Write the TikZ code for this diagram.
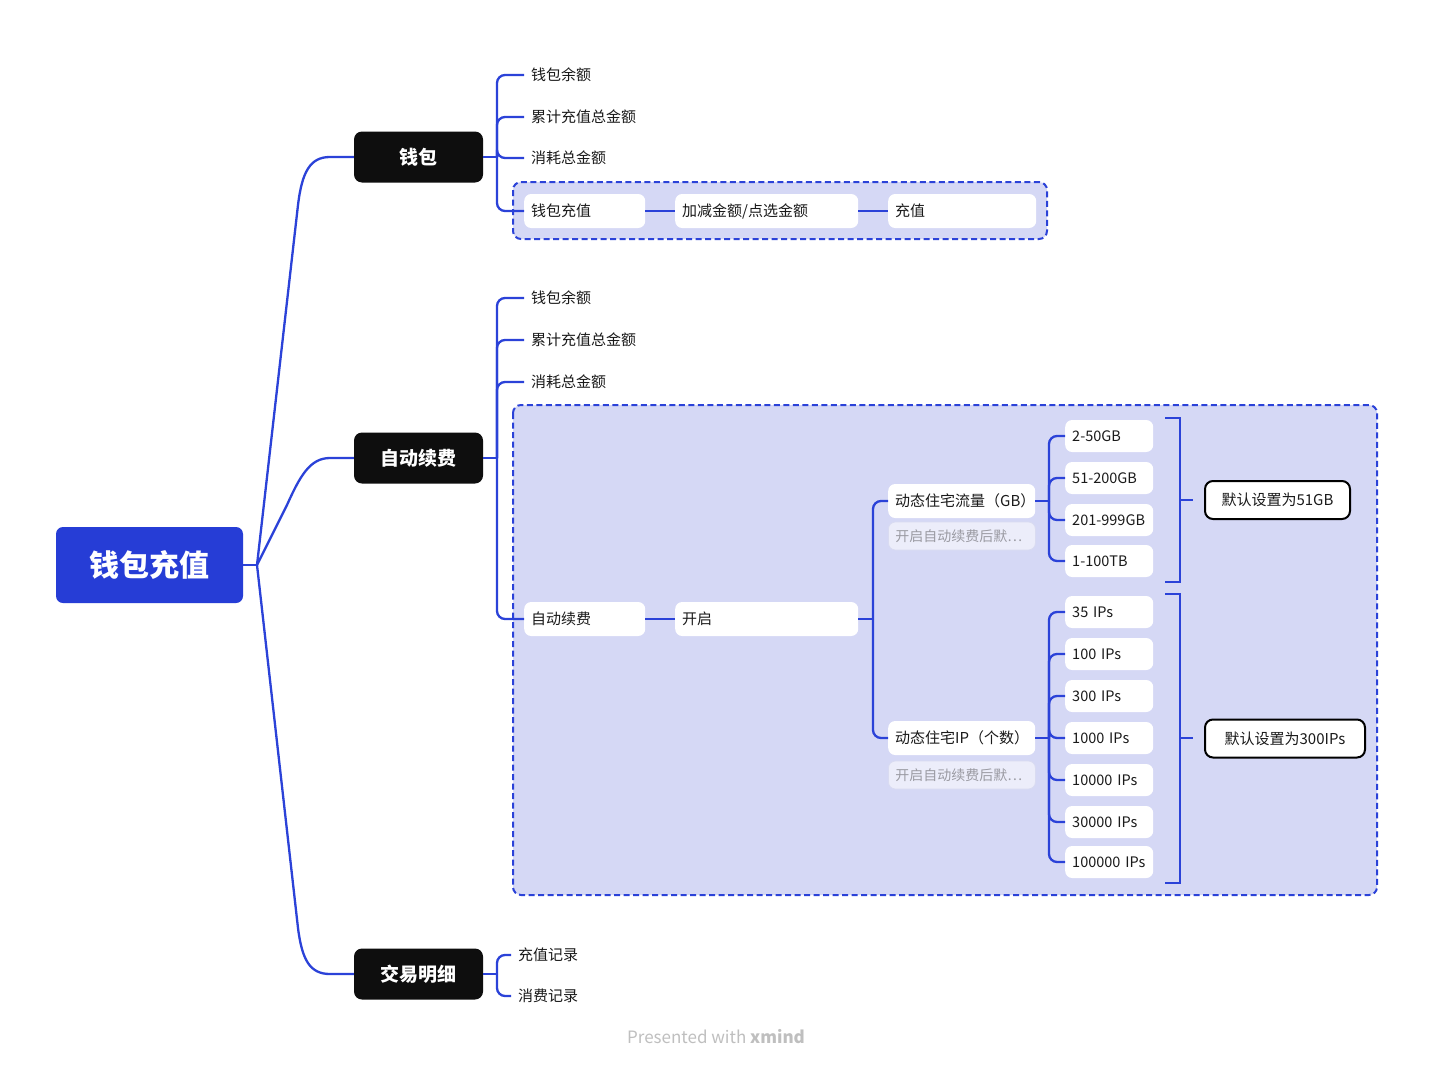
\documentclass[tikz,border=0pt]{standalone}
\usepackage{fontspec}
\setmainfont{Noto Sans CJK SC}
\definecolor{lineblue}{HTML}{2B42D8}
\definecolor{rootblue}{HTML}{263DD6}
\definecolor{zonefill}{HTML}{D5D8F5}
\definecolor{catblack}{HTML}{0E0E0E}
\definecolor{notefill}{HTML}{ECEDFA}
\definecolor{noteline}{HTML}{D9DBF1}
\definecolor{notetext}{HTML}{9A9AA2}
\definecolor{leaftext}{HTML}{1A1A1A}
\newcommand{\fsz}[1]{\fontsize{#1}{#1}\selectfont}
\tikzset{
  conn/.style={draw=lineblue, line width=2.3pt},
  spine/.style={conn, rounded corners=8pt},
  zone/.style={draw=lineblue, fill=zonefill, line width=2pt, dash pattern=on 6pt off 3.5pt, rounded corners=8pt},
  rootbox/.style={fill=rootblue, text=white, rounded corners=7pt, minimum width=187pt, minimum height=76pt, font=\fsz{30}\bfseries},
  catbox/.style={fill=catblack, text=white, rounded corners=8pt, minimum width=129pt, minimum height=51pt, font=\fsz{19}\bfseries},
  leaf/.style={anchor=west, inner xsep=7pt, inner ysep=2pt, text=leaftext, font=\fsz{15}},
  wbox/.style={anchor=west, fill=white, rounded corners=7pt, inner xsep=7pt, inner ysep=0pt, minimum height=34pt, align=left, text=leaftext, font=\fsz{15}},
  sbox/.style={wbox, minimum height=32pt, text width=74pt, font=\fsz{14.5}},
  notebox/.style={anchor=west, fill=notefill, draw=noteline, line width=0.8pt, rounded corners=7pt, inner xsep=7pt, inner ysep=0pt, minimum height=28pt, text width=133pt, align=left, text=notetext, font=\fsz{14}},
  defbox/.style={fill=white, draw=black, line width=2pt, rounded corners=8pt, minimum height=38pt, inner xsep=10pt, text=leaftext, font=\fsz{15}},
  wmark/.style={text=black!25, font=\fsz{17}}
}
\begin{document}
\begin{tikzpicture}[x=1pt,y=-1pt]
\useasboundingbox (0,0) rectangle (1434,1068);
\fill[white] (0,0) rectangle (1434,1068);

% zones
\draw[zone] (513,182) rectangle (1047,239);
\draw[zone] (513,405) rectangle (1377,895);

% root and categories
\node[rootbox] (root) at (149.5,565) {钱包充值};
\node[catbox] (w) at (418.5,157) {钱包};
\node[catbox] (a) at (418.5,458) {自动续费};
\node[catbox] (t) at (418.5,974) {交易明细};

\coordinate (rs) at (257,565);
\draw[conn] (root.east) -- (rs);
\draw[conn] (rs) -- (298,205) .. controls (302,172) and (310,157) .. (330,157) -- (w.west);
\draw[conn] (rs) -- (287,505) .. controls (300,476) and (310,458) .. (330,458) -- (a.west);
\draw[conn] (rs) -- (298,928) .. controls (302,960) and (310,974) .. (330,974) -- (t.west);

% wallet branch
\node[leaf] (w1) at (524,75) {钱包余额};
\node[leaf] (w2) at (524,117) {累计充值总金额};
\node[leaf] (w3) at (524,158) {消耗总金额};
\node[wbox, text width=107pt] (w4) at (524,211) {钱包充值};
\node[wbox, text width=169pt] (w5) at (675,211) {加减金额/点选金额};
\node[wbox, text width=134pt] (w6) at (888,211) {充值};
\coordinate (ws) at (497,157);
\draw[conn] (w.east) -- (ws);
\foreach \c in {w1,w2,w3,w4} \draw[spine] (ws) |- (\c.west);
\draw[conn] (w4.east) -- (w5.west);
\draw[conn] (w5.east) -- (w6.west);

% auto branch
\node[leaf] (a1) at (524,298) {钱包余额};
\node[leaf] (a2) at (524,340) {累计充值总金额};
\node[leaf] (a3) at (524,382) {消耗总金额};
\node[wbox, text width=107pt] (a4) at (524,619) {自动续费};
\node[wbox, text width=169pt] (a5) at (675,619) {开启};
\coordinate (as) at (497,458);
\draw[conn] (a.east) -- (as);
\foreach \c in {a1,a2,a3,a4} \draw[spine] (as) |- (\c.west);
\draw[conn] (a4.east) -- (a5.west);

\node[wbox, text width=133pt] (g) at (888,501) {动态住宅流量（GB）};
\node[notebox] (gn) at (888,536) {开启自动续费后默…};
\node[wbox, text width=133pt] (ip) at (888,738) {动态住宅IP（个数）};
\node[notebox] (ipn) at (888,775) {开启自动续费后默…};
\coordinate (ks) at (873,619);
\draw[conn] (a5.east) -- (ks);
\draw[spine] (ks) |- (g.west);
\draw[spine] (ks) |- (ip.west);

% GB options
\node[sbox] (g1) at (1065,436) {\mbox{2-50GB}};
\node[sbox] (g2) at (1065,478) {\mbox{51-200GB}};
\node[sbox] (g3) at (1065,520) {\mbox{201-999GB}};
\node[sbox] (g4) at (1065,561) {\mbox{1-100TB}};
\coordinate (gs) at (1049,501);
\draw[conn] (g.east) -- (gs);
\foreach \c in {g1,g2,g3,g4} \draw[spine] (gs) |- (\c.west);

% IP options
\node[sbox] (i1) at (1065,612) {\mbox{35 IPs}};
\node[sbox] (i2) at (1065,654) {\mbox{100 IPs}};
\node[sbox] (i3) at (1065,696) {\mbox{300 IPs}};
\node[sbox] (i4) at (1065,738) {\mbox{1000 IPs}};
\node[sbox] (i5) at (1065,780) {\mbox{10000 IPs}};
\node[sbox] (i6) at (1065,822) {\mbox{30000 IPs}};
\node[sbox] (i7) at (1065,862) {\mbox{100000 IPs}};
\coordinate (is) at (1049,738);
\draw[conn] (ip.east) -- (is);
\foreach \c in {i1,i2,i3,i4,i5,i6,i7} \draw[spine] (is) |- (\c.west);

% summaries
\node[defbox, minimum width=145pt] (d1) at (1277.5,500) {默认设置为51GB};
\node[defbox, minimum width=160pt] (d2) at (1285,738.5) {默认设置为300IPs};
\coordinate (b1) at (1180,500);
\coordinate (b1e) at (1193,500);
\coordinate (b2) at (1180,738);
\coordinate (b2e) at (1193,738);
\draw[conn] (1165,418) -- (1180,418) -- (1180,582) -- (1165,582);
\draw[conn] (b1) -- (b1e);
\draw[conn] (1165,594) -- (1180,594) -- (1180,883) -- (1165,883);
\draw[conn] (b2) -- (b2e);

% trade branch
\node[leaf] (t1) at (511,955) {充值记录};
\node[leaf] (t2) at (511,996) {消费记录};
\coordinate (ts) at (497,974);
\draw[conn] (t.east) -- (ts);
\draw[spine] (ts) |- (t1.west);
\draw[spine] (ts) |- (t2.west);

% watermark
\node[wmark] (wm) at (716,1037) {Presented with \textbf{xmind}};
\end{tikzpicture}
\end{document}
